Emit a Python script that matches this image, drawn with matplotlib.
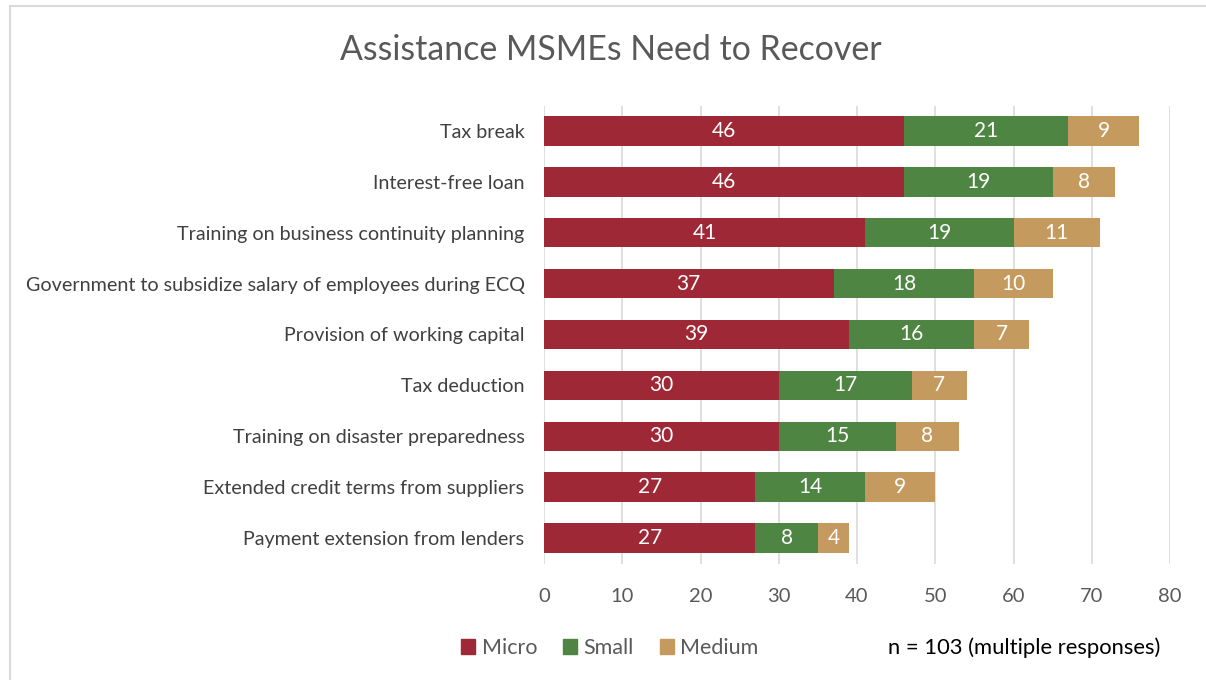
import numpy as np
import matplotlib.pyplot as plt
from matplotlib.patches import Rectangle, Patch

categories = ["Tax break", "Interest-free loan", "Training on business continuity planning",
              "Government to subsidize salary of employees during ECQ", "Provision of working capital",
              "Tax deduction", "Training on disaster preparedness",
              "Extended credit terms from suppliers", "Payment extension from lenders"]
micro = [46, 46, 41, 37, 39, 30, 30, 27, 27]
small = [21, 19, 19, 18, 16, 17, 15, 14, 8]
medium = [9, 8, 11, 10, 7, 7, 8, 9, 4]

series = [("Micro", micro, "#9E2835"), ("Small", small, "#4E8542"), ("Medium", medium, "#C49A5E")]

plt.rcParams['font.family'] = ['Lato', 'DejaVu Sans']

W, H = 1206, 680
fig = plt.figure(figsize=(W / 100, H / 100), dpi=100)
ax = fig.add_axes([544 / W, 1 - 563.5 / H, (1170 - 544) / W, (563.5 - 105.5) / H])

y = np.arange(len(categories))
left = np.zeros(len(categories))
for name, vals, col in series:
    vals = np.array(vals)
    ax.barh(y, vals, left=left, height=0.58, color=col, label=name, zorder=3)
    for yi, l, v in zip(y, left, vals):
        ax.text(l + v / 2, yi, str(v), ha="center", va="center", color="white", fontsize=15, zorder=4)
    left = left + vals

ax.set_ylim(len(categories) - 0.5, -0.5)
ax.set_xlim(0, 80)
ax.set_xticks(range(0, 81, 10))
ax.set_yticks(y)
ax.set_yticklabels(categories, fontsize=14.2, color="#404040")
ax.tick_params(axis="x", labelsize=14.5, labelcolor="#595959", length=0, pad=18)
ax.tick_params(axis="y", length=0, pad=14)
ax.grid(axis="x", color="#D9D9D9", linewidth=1.2, zorder=0)
for s in ax.spines.values():
    s.set_visible(False)

fig.text(611 / W, 1 - 50 / H, "Assistance MSMEs Need to Recover", ha="center", va="center",
         fontsize=24.4, color="#595959")

handles = [Patch(color=c, label=n) for n, _, c in series]
fig.legend(handles=handles, loc="center", bbox_to_anchor=(610 / W, 1 - 648 / H), ncol=3,
           frameon=False, fontsize=15.5, handlelength=0.65, handleheight=0.65, handletextpad=0.3,
           columnspacing=1.2, labelcolor="#595959")
fig.text(1160 / W, 1 - 648 / H, "n = 103 (multiple responses)", ha="right", va="center",
         fontsize=15.8, color="black")

fig.patches.append(Rectangle((9.5 / W, -0.1), 1.2, 1 - 6.5 / H + 0.1, transform=fig.transFigure,
                             fill=False, edgecolor="#D9D9D9", linewidth=1.5))

fig.savefig("out.png", dpi=100)
